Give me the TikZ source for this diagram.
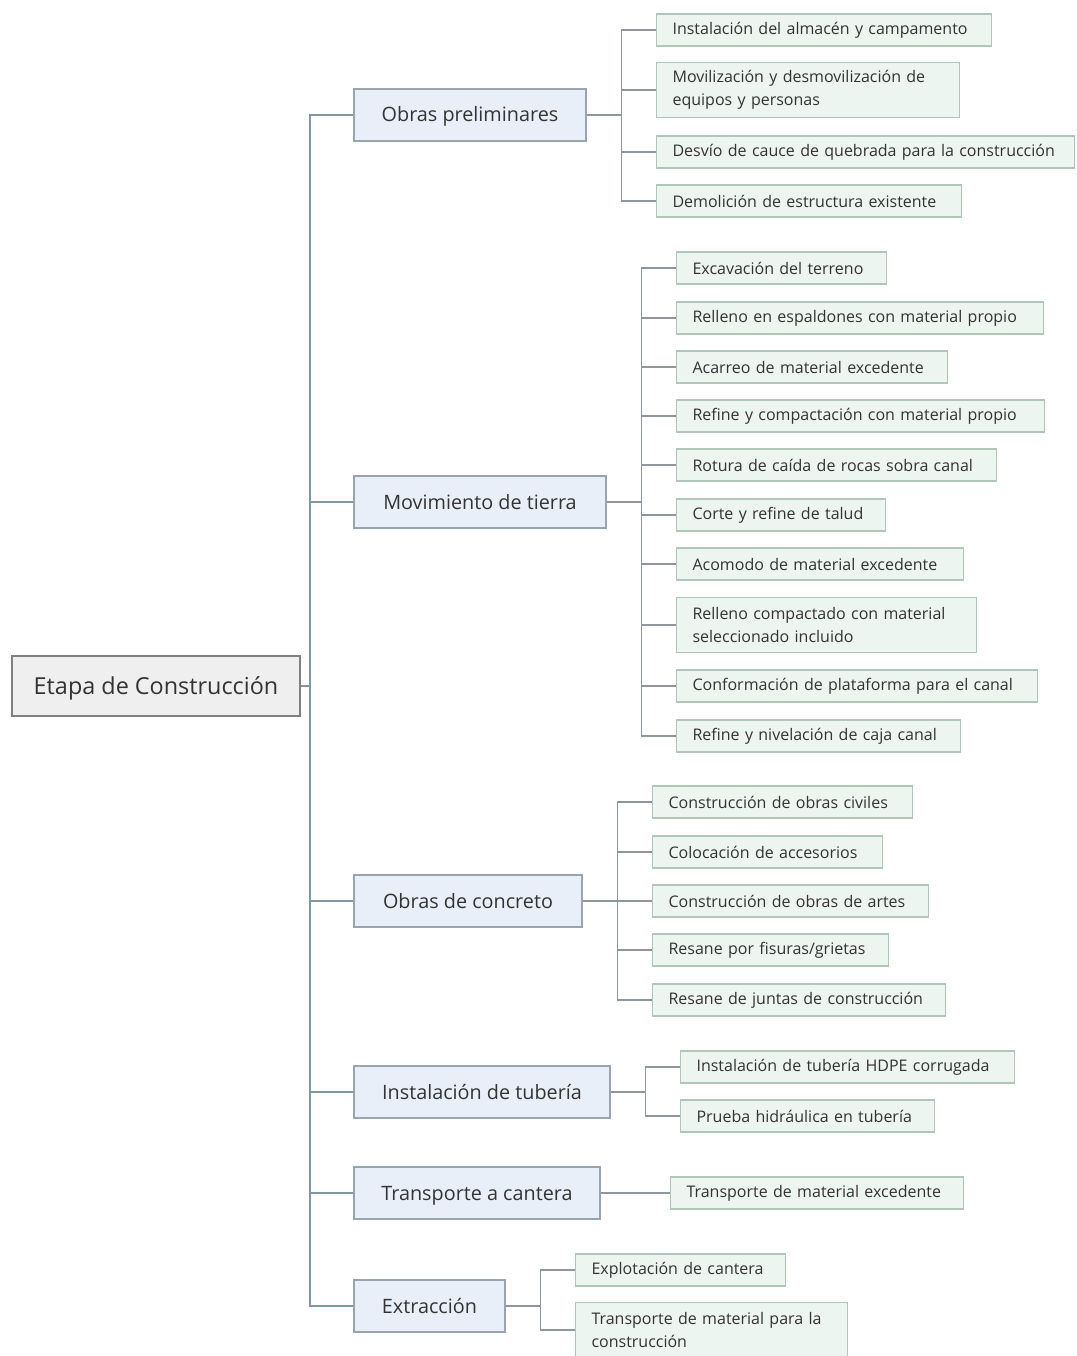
\documentclass[tikz,border=0pt]{standalone}
\usepackage{fontspec}
\setmainfont{Open Sans}
\definecolor{rootfill}{HTML}{EFEFEF}
\definecolor{rootline}{HTML}{7F7F7F}
\definecolor{midfill}{HTML}{E8EFF9}
\definecolor{midline}{HTML}{9AA4AE}
\definecolor{leaffill}{HTML}{EDF5F0}
\definecolor{leafline}{HTML}{AFC6B8}
\definecolor{wire}{HTML}{8E979B}
\definecolor{trunkwire}{HTML}{7F98A4}
\definecolor{ink}{HTML}{333333}
\tikzset{
  rootbox/.style={draw=rootline, fill=rootfill, line width=1.1pt, text=ink,
    font=\fontsize{23.4}{28}\selectfont, minimum width=288pt, minimum height=60pt, inner sep=0pt,
    text height=18pt, text depth=2pt},
  midbox/.style={draw=midline, fill=midfill, line width=1.1pt, text=ink,
    font=\fontsize{19.8}{24}\selectfont, minimum width=#1, minimum height=52pt, inner sep=0pt,
    text height=16pt, text depth=2pt},
  leafbox/.style={draw=leafline, fill=leaffill, line width=1.1pt, text=ink, anchor=west,
    font=\fontsize{16}{23}\selectfont, inner xsep=16pt, inner ysep=0pt,
    minimum height=32pt, align=left, text width=#1},
  tallbox/.style={leafbox=#1, minimum height=55pt},
  wireline/.style={draw=wire, line width=1.1pt},
  trunkline/.style={draw=trunkwire, line width=1.1pt}
}
\begin{document}
\begin{tikzpicture}[x=1pt,y=-1pt]
\useasboundingbox (0,0) rectangle (1076,1356);

% root and first level
\node[rootbox] (root) at (156,686) {Etapa de Construcción};
\node[midbox=232pt] (pre) at (470,115)  {Obras preliminares};
\node[midbox=252pt] (mov) at (480,502)  {Movimiento de tierra};
\node[midbox=228pt] (con) at (468,901)  {Obras de concreto};
\node[midbox=256pt] (tub) at (482,1092) {Instalación de tubería};
\node[midbox=246pt] (tra) at (477,1193) {Transporte a cantera};
\node[midbox=151pt] (ext) at (429.5,1306) {Extracción};

% obras preliminares
\node[leafbox=303pt]  (a1) at (656,30)  {Instalación del almacén y campamento};
\node[tallbox=271pt]  (a2) at (656,90)  {Movilización y desmovilización de\\equipos y personas};
\node[leafbox=386pt]  (a3) at (656,152) {Desvío de cauce de quebrada para la construcción};
\node[leafbox=273pt]  (a4) at (656,201) {Demolición de estructura existente};

% movimiento de tierra
\node[leafbox=178pt]  (b1)  at (676,268) {Excavación del terreno};
\node[leafbox=335pt]  (b2)  at (676,318) {Relleno en espaldones con material propio};
\node[leafbox=239pt]  (b3)  at (676,367) {Acarreo de material excedente};
\node[leafbox=336pt]  (b4)  at (676,416) {Refine y compactación con material propio};
\node[leafbox=288pt]  (b5)  at (676,465) {Rotura de caída de rocas sobra canal};
\node[leafbox=177pt]  (b6)  at (676,515) {Corte y refine de talud};
\node[leafbox=255pt]  (b7)  at (676,564) {Acomodo de material excedente};
\node[tallbox=268pt]  (b8)  at (676,625) {Relleno compactado con material\\seleccionado incluido};
\node[leafbox=329pt]  (b9)  at (676,686) {Conformación de plataforma para el canal};
\node[leafbox=252pt]  (b10) at (676,736) {Refine y nivelación de caja canal};

% obras de concreto
\node[leafbox=228pt]  (c1) at (652,802)  {Construcción de obras civiles};
\node[leafbox=198pt]  (c2) at (652,852)  {Colocación de accesorios};
\node[leafbox=244pt]  (c3) at (652,901)  {Construcción de obras de artes};
\node[leafbox=204pt]  (c4) at (652,950)  {Resane por fisuras/grietas};
\node[leafbox=261pt]  (c5) at (652,1000) {Resane de juntas de construcción};

% instalación de tubería
\node[leafbox=302pt]  (d1) at (680,1067) {Instalación de tubería HDPE corrugada};
\node[leafbox=222pt]  (d2) at (680,1116) {Prueba hidráulica en tubería};

% transporte a cantera
\node[leafbox=261pt]  (e1) at (670,1193) {Transporte de material excedente};

% extracción
\node[leafbox=178pt]  (f1) at (575,1270) {Explotación de cantera};
\node[tallbox=240pt]  (f2) at (575,1330) {Transporte de material para la\\construcción};

% trunk
\coordinate (tk) at (310,686);
\draw[trunkline] (root.east) -- (tk);
\foreach \m in {pre,mov,con,tub,tra,ext} \draw[trunkline] (tk) |- (\m.west);

% branches
\foreach \c in {a1,a2,a3,a4} \draw[wireline] (pre.east) -- ++(35,0) |- (\c.west);
\foreach \c in {b1,b2,b3,b4,b5,b6,b7,b8,b9,b10} \draw[wireline] (mov.east) -- ++(35,0) |- (\c.west);
\foreach \c in {c1,c2,c3,c4,c5} \draw[wireline] (con.east) -- ++(35,0) |- (\c.west);
\foreach \c in {d1,d2} \draw[wireline] (tub.east) -- ++(35,0) |- (\c.west);
\draw[wireline] (tra.east) -- (e1.west);
\foreach \c in {f1,f2} \draw[wireline] (ext.east) -- ++(35,0) |- (\c.west);
\end{tikzpicture}
\end{document}
